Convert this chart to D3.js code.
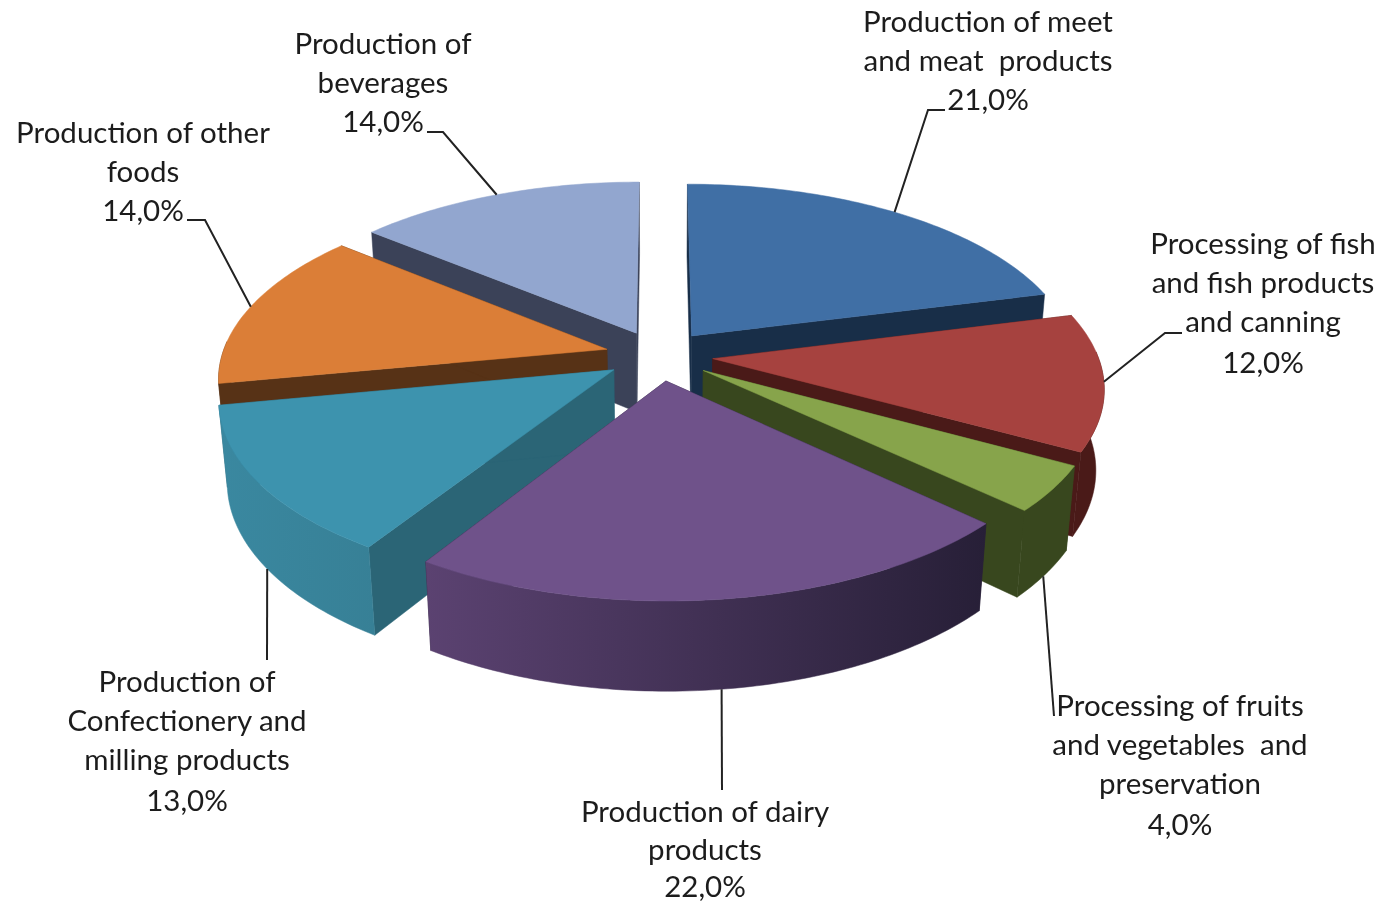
<!DOCTYPE html>
<html><head><meta charset="utf-8">
<script src="https://cdn.jsdelivr.net/npm/d3@7"></script>
<style>html,body{margin:0;padding:0;background:#fff}svg{display:block;filter:blur(0.6px)}text{font-family:Lato,"Open Sans",sans-serif}</style>
</head><body><svg id="c" width="1387" height="903"></svg>
<script>
const categories = ["Production of meet and meat products","Processing of fish and fish products and canning","Processing of fruits and vegetables and preservation","Production of dairy products","Production of Confectionery and milling products","Production of other foods","Production of beverages"];
const values = [21,12,4,22,13,14,14];
const percentLabels = ["21,0%","12,0%","4,0%","22,0%","13,0%","14,0%","14,0%"];
const labelLines = [
 ["Production of meet","and meat  products"],
 ["Processing of fish","and fish products","and canning"],
 ["Processing of fruits","and vegetables  and","preservation"],
 ["Production of dairy","products"],
 ["Production of","Confectionery and","milling products"],
 ["Production of other","foods"],
 ["Production of","beverages"]];
const topColors  = ["#406fa5","#a6423f","#87a44b","#6f528a","#3d93ae","#db7e37","#92a6cf"];
const sideColors = ["#182e48","#4a1a18","#38471e","#2a2038","#2b6576","#573216","#3b4258"];
const rimLeft    = ["#2b4a70","#4a1a18","#38471e","#5b4271","#3a88a0","#573216","#5c6a85"];
const rimRight   = ["#2b4a70","#4a1a18","#38471e","#271f37","#378096","#573216","#5c6a85"];
// layout
const paintOrder = [6,0,5,1,4,2,3];
const labelX = [988,1263,1180,705,187,143,383];
const labelY = [32,254,716,822,692,143,54];
const lineHeights = [39,39,39,37.5,39,39,39];
const rimZ = [0,0,1,1,1,0,0];
const leaderShift = [-0.4,0,0.5,0.25,-0.3,0,0];
const elbows = [[[928,110],[945,110]],[[1165,333],[1182,333]],[[1054,716]],[[722,790]],[[267,660]],[[205,220],[187,220]],[[443,132],[427,132]]];

const cx=659, cy=355.5, R=385, k=0.466, H=81.4, a=0.147, b=0.0187, explode=54;
function project(u,v,z){ const p=1/(1-a*v+b*z); return [cx+R*u*p, cy+(R*k*v+H*z)*p]; }
const svg=d3.select("#c"), defs=svg.append("defs");
const pie=d3.pie().sort(null).startAngle(0).endAngle(2*Math.PI);
const arcs=pie(values);
const line=d3.line();
const slices=arcs.map((d,i)=>{
  const mid=(d.startAngle+d.endAngle)/2;
  const ox=Math.sin(mid)*explode/R, oy=-Math.cos(mid)*explode/R;
  const pt=(ang,r,z)=>project(ox+r*Math.sin(ang),oy-r*Math.cos(ang),z);
  const n=Math.ceil((d.endAngle-d.startAngle)*60);
  const angs=d3.range(n+1).map(j=>d.startAngle+(d.endAngle-d.startAngle)*j/n);
  return {d,i,mid,pt,angs};
});
const g=svg.append("g");
paintOrder.forEach(i=>{
  const s=slices[i];
  const top=s.angs.map(t=>s.pt(t,1,0)), bot=s.angs.map(t=>s.pt(t,1,1));
  const A0=s.pt(0,0,0), A1=s.pt(0,0,1);
  const front=s.angs.filter(t=>Math.cos(t)<0.05);
  // radial walls first, the outer wall over them, the top face last
  [top[0],top[top.length-1]].forEach((P,j)=>{
    const Q=j?bot[bot.length-1]:bot[0];
    g.append("path").attr("d",line([A0,P,Q,A1])+"Z").attr("fill",sideColors[i]).attr("stroke",sideColors[i]).attr("stroke-width",.5);
  });
  if(front.length>1){
    const ft=front.map(t=>s.pt(t,1,0)), fb=front.map(t=>s.pt(t,1,1));
    const xs=ft.concat(fb).map(p=>p[0]);
    const id="rim"+i;
    const gr=defs.append("linearGradient").attr("id",id).attr("gradientUnits","userSpaceOnUse")
      .attr("x1",d3.min(xs)).attr("x2",d3.max(xs)).attr("y1",0).attr("y2",0);
    gr.append("stop").attr("offset",0).attr("stop-color",rimLeft[i]);
    gr.append("stop").attr("offset",1).attr("stop-color",rimRight[i]);
    g.append("path").attr("d",line(ft.concat(fb.slice().reverse()))+"Z").attr("fill",`url(#${id})`).attr("stroke",`url(#${id})`).attr("stroke-width",.5);
  }
  g.append("path").attr("d",line([A0].concat(top))+"Z").attr("fill",topColors[i]).attr("stroke",topColors[i]).attr("stroke-width",.5);
});
const lg=svg.append("g");
slices.forEach(s=>{
  const i=s.i;
  lg.append("path").attr("d",line([s.pt(s.mid+leaderShift[i]*Math.PI/180,1,rimZ[i])].concat(elbows[i]))).attr("fill","none").attr("stroke","#222").attr("stroke-width",2);
  const t=svg.append("text").attr("text-anchor","middle").attr("font-size",29.5).attr("fill","#1c1c1c");
  labelLines[i].concat(percentLabels[i]).forEach((l,j)=>{
    t.append("tspan").attr("x",labelX[i]).attr("y",labelY[i]+j*lineHeights[i]+(j===labelLines[i].length&&j>2?2:0)).attr("xml:space","preserve").text(l);
  });
});
</script></body></html>
